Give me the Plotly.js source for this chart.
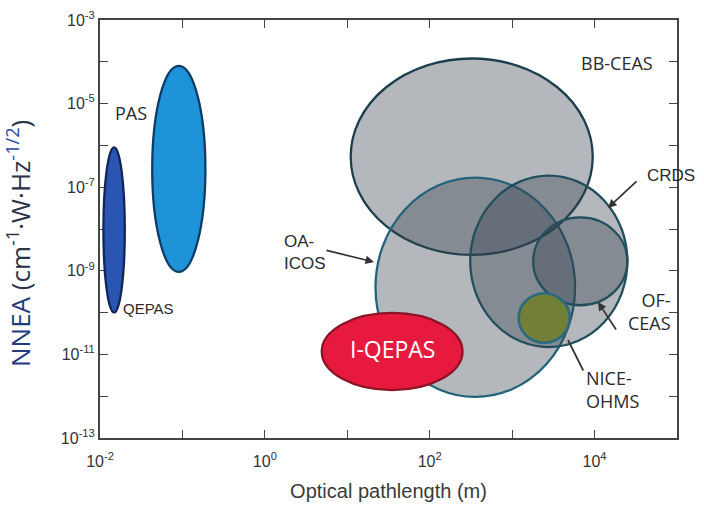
<!DOCTYPE html>
<html>
<head>
<meta charset="utf-8">
<script src="https://cdn.plot.ly/plotly-3.0.1.min.js"></script>
<style>html,body{margin:0;padding:0;background:#fff;}#chart{width:704px;height:507px;}</style>
</head>
<body>
<div id="chart"></div>
<script>
// ---- data ----
var techniques = ['BB-CEAS', 'OA-ICOS', 'CRDS', 'OF-CEAS', 'NICE-OHMS', 'I-QEPAS', 'QEPAS', 'PAS'];
var pathMin = [11, 22, 310, 1800, 1200, 4.9, 0.011, 0.043];      // m
var pathMax = [9500, 5800, 25000, 25000, 5000, 250, 0.020, 0.19]; // m
var nneaMin = [2.4e-9, 9.6e-13, 1.5e-11, 1.5e-10, 1.9e-11, 1.4e-12, 1.0e-10, 9.4e-10];
var nneaMax = [1.2e-4, 1.7e-7, 1.9e-7, 1.9e-8, 2.9e-10, 9.8e-11, 9.0e-7, 8.0e-5];

var xTickVals = [1e-2, 1e-1, 1e0, 1e1, 1e2, 1e3, 1e4, 1e5];
var xTickText = ['10<sup>-2</sup>', '', '10<sup>0</sup>', '', '10<sup>2</sup>', '', '10<sup>4</sup>', ''];
var yTickVals = [1e-13, 1e-12, 1e-11, 1e-10, 1e-9, 1e-8, 1e-7, 1e-6, 1e-5, 1e-4, 1e-3];
var yTickText = ['10<sup>-13</sup>', '', '10<sup>-11</sup>', '', '10<sup>-9</sup>', '', '10<sup>-7</sup>', '', '10<sup>-5</sup>', '', '10<sup>-3</sup>'];

// ---- styles ----
var grayFill = 'rgba(52,63,75,0.37)';
var styles = {
  'BB-CEAS':   {fill: grayFill, line: '#1d3f4d', w: 2.3},
  'OA-ICOS':   {fill: grayFill, line: '#22637a', w: 2.3},
  'CRDS':      {fill: grayFill, line: '#224f5c', w: 2.3},
  'OF-CEAS':   {fill: grayFill, line: '#224f5c', w: 2.3},
  'NICE-OHMS': {fill: '#727f36', line: '#2a6a80', w: 2.5},
  'I-QEPAS':   {fill: '#e8193f', line: '#8a1525', w: 2.3},
  'QEPAS':     {fill: '#2b55b3', line: '#10265a', w: 2.3},
  'PAS':       {fill: '#1f93d8', line: '#0d3d66', w: 2.3}
};

var shapes = techniques.map(function (t, i) {
  return {
    type: 'circle', xref: 'x', yref: 'y', layer: 'above',
    x0: pathMin[i], x1: pathMax[i], y0: nneaMin[i], y1: nneaMax[i],
    fillcolor: styles[t].fill,
    line: {color: styles[t].line, width: styles[t].w}
  };
});

var lab = '"Open Sans", Lato, sans-serif';
var ari = '"Liberation Sans", Arial, sans-serif';
function px2x(p) { return (p - 100) / 577; }
function px2y(p) { return (438 - p) / 418; }
function label(text, px, py, font, size, color, xanchor, align) {
  return {text: text, xref: 'paper', yref: 'paper', x: px2x(px), y: px2y(py),
    xanchor: xanchor || 'center', yanchor: 'middle', align: align || 'center',
    showarrow: false, font: {family: font, size: size, color: color || '#2a2a2a'}};
}
function arrow(tipX, tipY, tailX, tailY, head) {
  return {text: '', xref: 'paper', yref: 'paper', x: px2x(tipX), y: px2y(tipY),
    ax: tailX - tipX, ay: tailY - tipY, axref: 'pixel', ayref: 'pixel',
    showarrow: true, arrowhead: head, arrowsize: 1, arrowwidth: 1.7, arrowcolor: '#333',
    standoff: 0, startstandoff: 0};
}

var yTitle = label('<span style="color:#1f3c80">NNEA</span> (cm<sup>-1</sup>·W·Hz<sup><span style="color:#2a4c9a">-1/2</span></sup>)',
  19, 244, lab, 26, '#2a3347');
yTitle.textangle = -90;

var annotations = [
  yTitle,
  label('PAS', 131, 113, lab, 18),
  label('QEPAS', 148, 308, ari, 15),
  label('BB-CEAS', 617, 63, lab, 18),
  label('CRDS', 671, 176, ari, 17),
  label('OA-<br>ICOS', 282, 252, ari, 17, null, 'left', 'left'),
  label('OF-<br>CEAS', 673, 311, lab, 18, null, 'right', 'right'),
  label('NICE-<br>OHMS', 584, 389, lab, 18, null, 'left', 'left'),
  label('I-QEPAS', 393, 349, lab, 23, '#ffffff'),
  arrow(608, 208, 638, 180, 2),
  arrow(374, 262, 325, 250, 2),
  arrow(598, 302, 617, 331, 2),
  arrow(568, 340, 584, 372, 0)
];

var layout = {
  width: 704, height: 507,
  margin: {l: 100, r: 27, t: 20, b: 69},
  paper_bgcolor: '#ffffff', plot_bgcolor: '#ffffff',
  showlegend: false,
  xaxis: {
    type: 'log', range: [-2, 5], tickmode: 'array', tickvals: xTickVals, ticktext: xTickText,
    ticks: 'inside', ticklen: 8, tickwidth: 1, tickcolor: '#444',
    showline: true, linecolor: '#444', linewidth: 2, mirror: 'ticks',
    showgrid: false, zeroline: false, ticklabelstandoff: 8,
    tickfont: {family: ari, size: 16, color: '#333'},
    title: {text: 'Optical pathlength (m)', font: {family: ari, size: 20, color: '#3a3a3a'}, standoff: 15}
  },
  yaxis: {
    type: 'log', range: [-13, -3], tickmode: 'array', tickvals: yTickVals, ticktext: yTickText,
    ticks: 'inside', ticklen: 8, tickwidth: 1, tickcolor: '#444',
    showline: true, linecolor: '#444', linewidth: 2, mirror: 'ticks',
    showgrid: false, zeroline: false, ticklabelstandoff: 0,
    tickfont: {family: ari, size: 16, color: '#333'}
  },
  shapes: shapes,
  annotations: annotations
};

Plotly.newPlot('chart', [], layout, {staticPlot: true, displayModeBar: false});
</script>
</body>
</html>
